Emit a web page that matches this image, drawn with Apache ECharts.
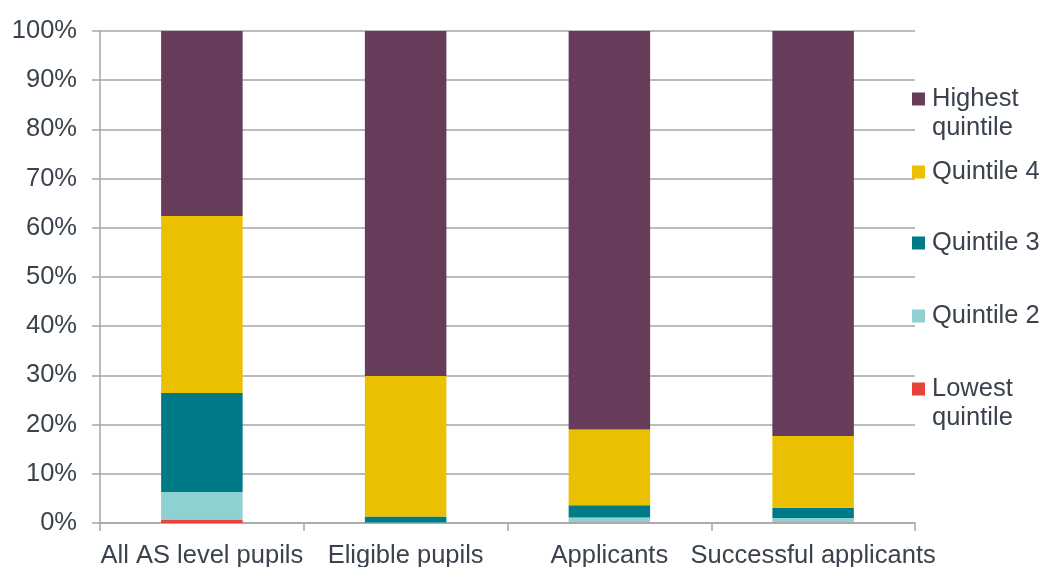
<!DOCTYPE html>
<html><head><meta charset="utf-8">
<script src="https://cdn.jsdelivr.net/npm/echarts@6/dist/echarts.min.js"></script>
<style>html,body{margin:0;padding:0;background:#fff}#c{width:1046px;height:567px}</style>
</head><body><div id="c"></div>
<script>
const categories = ["All AS level pupils", "Eligible pupils", "Applicants", "Successful applicants"];
const lowest   = [0.7, 0.0, 0.1, 0.1];
const quintile2 = [5.6, 0.1, 1.0, 0.9];
const quintile3 = [20.1, 1.2, 2.5, 2.1];
const quintile4 = [36.0, 28.6, 15.4, 14.6];
const highest  = [37.6, 70.1, 81.0, 82.3];
const yTicks = [0, 10, 20, 30, 40, 50, 60, 70, 80, 90, 100];

const txt = '#3a434d';
const font = 'Liberation Sans, Arial, sans-serif';
const fs = 25.5;
const seriesDefs = [
  {name: 'Lowest quintile', data: lowest, color: '#e8423a', label: '\nLowest\nquintile', center: 389, two: true},
  {name: 'Quintile 2', data: quintile2, color: '#8fd1d1', label: 'Quintile 2', center: 316},
  {name: 'Quintile 3', data: quintile3, color: '#007a87', label: 'Quintile 3', center: 243},
  {name: 'Quintile 4', data: quintile4, color: '#ebc000', label: 'Quintile 4', center: 172},
  {name: 'Highest quintile', data: highest, color: '#673c5a', label: '\nHighest\nquintile', center: 99, two: true}
];

const legends = seriesDefs.map(s => ({
  orient: 'vertical',
  left: 912,
  top: s.two ? s.center - 43.5 : s.center - 14.5,
  padding: 0,
  itemWidth: 13,
  itemHeight: 13,
  icon: 'rect',
  selectedMode: false,
  data: [s.name],
  formatter: () => s.label,
  textStyle: {color: txt, fontSize: fs, fontFamily: font, lineHeight: 29, padding: [0,0,0,2]}
}));

const chart = echarts.init(document.getElementById('c'));
chart.setOption({
  animation: false,
  legend: legends,
  grid: {left: 100, right: 131, top: 31, bottom: 44, containLabel: false, outerBoundsMode: 'none'},
  xAxis: {
    type: 'category',
    data: categories,
    axisLine: {lineStyle: {color: '#a6a6a6', width: 1.5}},
    axisTick: {show: true, length: 8, lineStyle: {color: '#a6a6a6', width: 1.5}},
    axisLabel: {color: txt, fontSize: fs, fontFamily: font, margin: 20, interval: 0}
  },
  yAxis: {
    type: 'value',
    min: 0, max: 100, interval: 10,
    axisLine: {show: true, lineStyle: {color: '#a6a6a6', width: 1.5}},
    axisTick: {show: true, length: 8, lineStyle: {color: '#a6a6a6', width: 1.5}},
    splitLine: {lineStyle: {color: '#a6a6a6', width: 1.5}},
    axisLabel: {color: txt, fontSize: fs, fontFamily: font, margin: 23,
      formatter: v => yTicks.includes(v) ? v + '%' : ''}
  },
  series: seriesDefs.map(s => ({
    name: s.name, type: 'bar', stack: 'total', barWidth: '40%',
    data: s.data, itemStyle: {color: s.color}
  }))
});
</script></body></html>
